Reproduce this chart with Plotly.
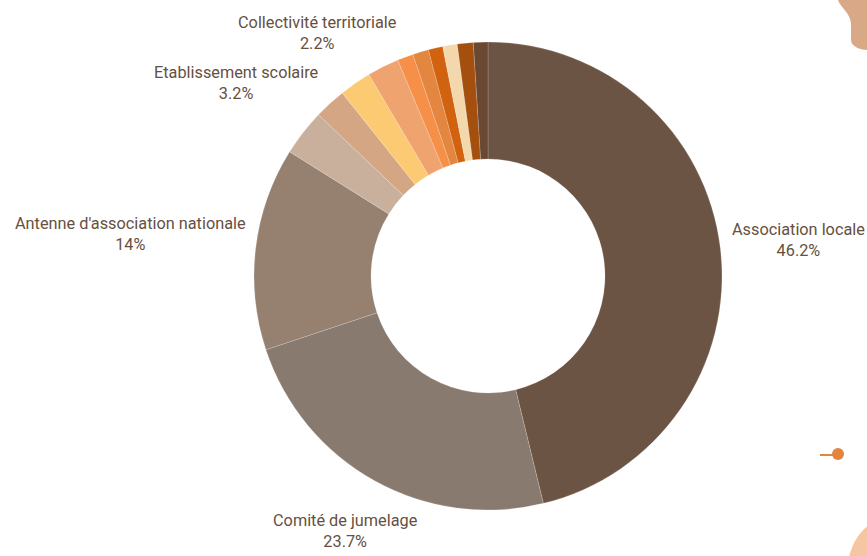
import plotly.graph_objects as go

W, H = 867, 556

# ---- data ----
labels = [
    "Association locale",
    "Comité de jumelage",
    "Antenne d'association nationale",
    "Etablissement scolaire",
    "Collectivité territoriale",
    "Autre structure 1",
    "Autre structure 2",
    "Autre structure 3",
    "Autre structure 4",
    "Autre structure 5",
    "Autre structure 6",
    "Autre structure 7",
    "Autre structure 8",
]
values = [46.2, 23.7, 14, 3.2, 2.2, 2.2, 2.2, 1.1, 1.1, 1.0, 1.0, 1.1, 1.0]
colors = [
    "#6C5444", "#887A6E", "#968070", "#C8B09C", "#D4A683", "#FCCA72",
    "#EFA36F", "#F69049", "#E3863F", "#D1620F", "#F2D8AC", "#A44F0E", "#6A4832",
]
shown_labels = [0, 1, 2, 3, 4]

# label positions (pixels, centre of each text block)
label_pos = {
    0: (798, 240),
    1: (345, 531),
    2: (130, 234),
    3: (236, 83),
    4: (317, 33),
}

# ---- geometry of the donut ----
cx, cy, R = 488, 276, 234

fig = go.Figure(
    go.Pie(
        labels=labels,
        values=values,
        sort=False,
        direction="clockwise",
        rotation=0,
        hole=0.5,
        marker=dict(colors=colors, line=dict(color="rgba(255,255,255,0.35)", width=0.5)),
        textinfo="none",
        showlegend=False,
        domain=dict(
            x=[(cx - R) / W, (cx + R) / W],
            y=[1 - (cy + R) / H, 1 - (cy - R) / H],
        ),
    )
)

annotations = []
for i in shown_labels:
    px, py = label_pos[i]
    annotations.append(
        dict(
            x=px / W, y=1 - py / H, xref="paper", yref="paper",
            text=f"{labels[i]}<br>{values[i]:g}%",
            showarrow=False, xanchor="center", yanchor="middle", align="center",
            font=dict(family="Roboto", size=16.3, color="#66503F"),
        )
    )

shapes = [
    # top-right decorative blob
    dict(type="path", xref="paper", yref="paper",
         path=f"M {838/W} 1 L 1 1 L 1 {1-50/H} "
              f"C {862/W} {1-50/H} {851/W} {1-47/H} {851/W} {1-40/H} "
              f"L {851/W} {1-24/H} C {851/W} {1-14/H} {841/W} {1-8/H} {838/W} 1 Z",
         fillcolor="#D9A886", line=dict(width=0), layer="below"),
    # bottom-right decorative circle
    dict(type="circle", xref="paper", yref="paper",
         x0=848 / W, x1=958 / W, y0=1 - 623 / H, y1=1 - 513 / H,
         fillcolor="#F6C6A2", line=dict(width=0), layer="below"),
    # small orange pin
    dict(type="line", xref="paper", yref="paper",
         x0=820 / W, x1=834 / W, y0=1 - 455 / H, y1=1 - 455 / H,
         line=dict(color="#E4843F", width=2)),
    dict(type="circle", xref="paper", yref="paper",
         x0=832 / W, x1=844 / W, y0=1 - 460 / H, y1=1 - 448 / H,
         fillcolor="#E4843F", line=dict(width=0)),
]

fig.update_layout(
    width=W, height=H,
    margin=dict(l=0, r=0, t=0, b=0),
    paper_bgcolor="white", plot_bgcolor="white",
    annotations=annotations,
    shapes=shapes,
    font=dict(family="Roboto", color="#6B5444"),
)

fig.write_html(
    "out.html",
    config={"displayModeBar": False},
    post_script="document.body.style.margin='0';document.body.style.overflow='hidden';",
)
